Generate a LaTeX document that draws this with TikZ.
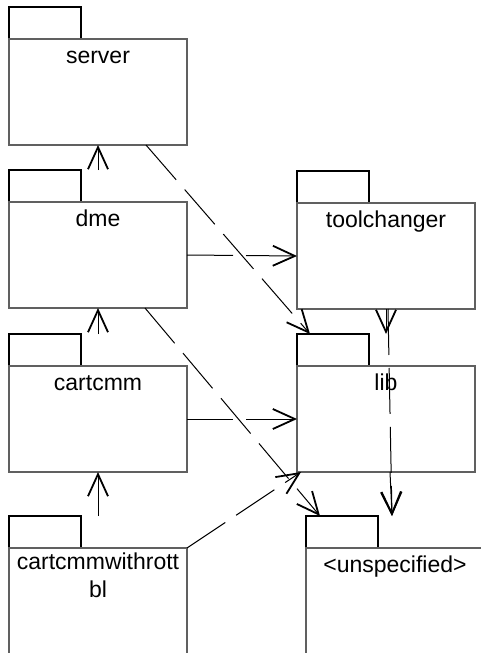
\documentclass[tikz,border=0pt]{standalone}
\usepackage{fontspec}
\setmainfont{Liberation Sans}
\usepackage{tikz}
\usepackage{xcolor}
\usetikzlibrary{arrows.meta,backgrounds,calc,positioning}
\definecolor{boxgray}{RGB}{96,96,96}
\newcommand{\umlPackageXX}[4]{
    \node[pkgbody] (#1) at (#2, #3) {};
    \begin{scope}[on background layer]
      \node[pkgtab] (#1TAB) [above right=0pt and 0pt of #1.north west] {};
    \end{scope}
    \node[pkgname] (#1NAME) at ($(#1.north)+(0,4.4)$) {#4};
}

\begin{document}
\begin{tikzpicture}[x=1pt,y=-1pt]
    \tikzstyle{pkgbody}=[rectangle,draw=boxgray,line width=1.2pt,anchor=north west,%
    minimum width=178pt,minimum height=106pt,inner sep=0pt,outer sep=0pt] %
    \tikzstyle{pkgtab}=[rectangle,draw=black,line width=1.2pt,minimum width=72pt,%
    minimum height=32pt,inner sep=0pt,outer sep=0pt] %
    \tikzstyle{pkgname}=[anchor=north,align=center,inner sep=0pt,%
    font=\fontsize{23}{28}\selectfont,execute at begin node=\strut] %
    \tikzstyle{dep}=[draw=black,line width=1pt,dash pattern=on 46pt off 13pt,%
    -{Straight Barb[length=22pt,width=20pt,line width=1.8pt]}] %

    \useasboundingbox (0,0) rectangle (480,653);

    \umlPackageXX{SERVER}{9}{39}{server};
    \umlPackageXX{DME}{9}{202}{dme};
    \umlPackageXX{CART}{9}{366}{cartcmm};
    \umlPackageXX{CARTROT}{9}{548}{cartcmmwithrott\\bl};
    \umlPackageXX{TOOL}{297}{203}{toolchanger};
    \umlPackageXX{LIB}{297}{366}{lib};
    \umlPackageXX{UNSPEC}{306}{548}{<unspecified>};

    %% straight up the left column
    \foreach \src/\dst in {DME/SERVER, CART/DME, CARTROT/CART}
    {
      \draw[dep] (\src.north |- \src TAB.north) -- (\dst.south);
    }

    \draw[dep] (DME.east) -- (TOOL.west);
    \draw[dep] (CART.east) -- (LIB.west);
    \draw[dep] ($(SERVER.south west)+(137,0)$) -- ($(LIBTAB.north west)+(13,0)$);
    \draw[dep] ($(DME.south west)+(136,0)$) -- ($(UNSPECTAB.north west)+(14,0)$);
    \draw[dep] (CARTROT.north east) -- ($(LIB.south west)+(4,0)$);
    \draw[dep] (TOOL.south) -- (TOOL.south |- LIBTAB.north);

    \coordinate (UNSPECTOP) at ($(UNSPEC.north |- UNSPECTAB.north)+(-3,0)$);
    \draw[dep] ($(TOOL.south)+(2,0)$) -- (UNSPECTOP);
    \draw[dep] ($(LIB.south)+(4,0)$) -- (UNSPECTOP);
\end{tikzpicture}
\end{document}
